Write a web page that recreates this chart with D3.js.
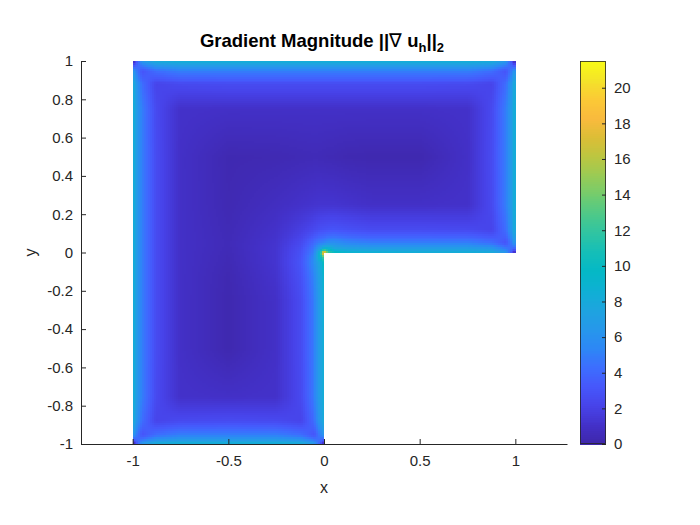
<!DOCTYPE html>
<html><head><meta charset="utf-8">
<script src="https://cdn.jsdelivr.net/npm/d3@7/dist/d3.min.js"></script>
<style>
body{margin:0;background:#fff}
text{font-family:"Liberation Sans",Arial,Helvetica,sans-serif}
</style>
</head><body>
<svg id="chart" width="700" height="525"></svg>
<script>
// grid node coordinates (same for x and y)
const gridX = [-1, -0.95, -0.88, -0.75, -0.5, -0.25, -0.12, -0.05, -0.02, 0, 0.02, 0.05, 0.12, 0.25, 0.5, 0.75, 0.88, 0.95, 1];
const gridY = [-1, -0.95, -0.88, -0.75, -0.5, -0.25, -0.12, -0.05, -0.02, 0, 0.02, 0.05, 0.12, 0.25, 0.5, 0.75, 0.88, 0.95, 1];
// gradient magnitude at nodes, rows in ascending y; rows with y<0 only cover x<=0
const magnitude = [
  [0, 6.5, 8.2, 8.5, 8.5, 8.5, 8.2, 6.5, 3.5, 0],
  [6.5, 3.0, 4.3, 5, 5, 5, 4.3, 3.0, 5, 6.5],
  [8.2, 4.3, 2.2, 2.5, 2.6, 2.5, 2.2, 4.3, 6.7, 8.2],
  [8.5, 5, 2.5, 1.1, 1.0, 1.1, 2.5, 5, 7.2, 8.5],
  [8.5, 5, 2.6, 1.0, 0.25, 1.0, 2.6, 5, 7.2, 8.5],
  [8.5, 5, 2.6, 1.0, 0.25, 1.0, 2.6, 5, 7.2, 8.8],
  [8.5, 5, 2.6, 1.0, 0.3, 1.2, 2.9, 5.4, 7.5, 9.3],
  [8.5, 5, 2.6, 1.0, 0.4, 1.3, 3.1, 6.0, 8.0, 10.5],
  [8.5, 5, 2.6, 1.0, 0.42, 1.3, 3.0, 5.8, 9.5, 13],
  [8.5, 5, 2.6, 1.0, 0.45, 1.3, 2.9, 5.3, 9.5, 21.5, 13, 10.5, 9.3, 8.8, 8.5, 8.5, 8.2, 6.5, 0],
  [8.5, 5, 2.6, 1.0, 0.48, 1.3, 2.8, 5.0, 7.5, 9.5, 9.5, 8.0, 7.5, 7.2, 7.2, 7.2, 6.7, 5, 3.5],
  [8.5, 5, 2.6, 1.0, 0.5, 1.25, 2.5, 4.2, 5.0, 5.3, 5.8, 6.0, 5.4, 5, 5, 5, 4.3, 3.0, 6.5],
  [8.5, 5, 2.6, 1.0, 0.45, 1.1, 1.9, 2.5, 2.8, 2.9, 3.0, 3.1, 2.9, 2.6, 2.6, 2.5, 2.2, 4.3, 8.2],
  [8.5, 5, 2.6, 1.0, 0.35, 0.8, 1.1, 1.25, 1.3, 1.3, 1.3, 1.3, 1.2, 1.0, 1.0, 1.1, 2.5, 5, 8.5],
  [8.5, 5, 2.6, 1.0, 0.3, 0.35, 0.45, 0.5, 0.48, 0.45, 0.42, 0.4, 0.3, 0.25, 0.25, 1.0, 2.6, 5, 8.5],
  [8.5, 5, 2.5, 1.1, 1.0, 1.0, 1.0, 1.0, 1.0, 1.0, 1.0, 1.0, 1.0, 1.0, 1.0, 1.1, 2.5, 5, 8.5],
  [8.2, 4.3, 2.2, 2.5, 2.6, 2.6, 2.6, 2.6, 2.6, 2.6, 2.6, 2.6, 2.6, 2.6, 2.6, 2.5, 2.2, 4.3, 8.2],
  [6.5, 3.0, 4.3, 5, 5, 5, 5, 5, 5, 5, 5, 5, 5, 5, 5, 5, 4.3, 3.0, 6.5],
  [0, 6.5, 8.2, 8.5, 8.5, 8.5, 8.5, 8.5, 8.5, 8.5, 8.5, 8.5, 8.5, 8.5, 8.5, 8.5, 8.2, 6.5, 0]
];
const xTicks = [-1, -0.5, 0, 0.5, 1];
const yTicks = [-1, -0.8, -0.6, -0.4, -0.2, 0, 0.2, 0.4, 0.6, 0.8, 1];
const cbTicks = [0, 2, 4, 6, 8, 10, 12, 14, 16, 18, 20];
const colorMin = 0, colorMax = 21.5;
const xLimits = [-1.27, 1.27], yLimits = [-1, 1];
const parula = ["#3e26a8","#4331c9","#4743e9","#4657fb","#3d6dfe","#2d87f6","#2697eb","#1ea4df","#0fb0d4","#04b8c6","#14beb8","#2ec4a3","#4dc989","#72cc6e","#99cb55","#bbc641","#dbbe36","#f9ba3d","#fbc936","#f4e329","#f9fb15"];

const svg = d3.select("#chart");
svg.append("rect").attr("width",700).attr("height",525).attr("fill","#fff");
const ax = {left:81, right:567, top:61, bottom:444};
const x = d3.scaleLinear().domain(xLimits).range([ax.left, ax.right]);
const y = d3.scaleLinear().domain(yLimits).range([ax.bottom, ax.top]);
const color = d3.scaleLinear()
  .domain(parula.map((c,i)=> colorMin + i*(colorMax-colorMin)/(parula.length-1)))
  .range(parula).interpolate(d3.interpolateRgb).clamp(true);

// field: each grid cell shaded from its four node values
const cells = [];
for (let j = 0; j < gridY.length - 1; j++) {
  const lo = magnitude[j], hi = magnitude[j+1];
  const n = Math.min(lo.length, hi.length);
  for (let i = 0; i < n - 1; i++) {
    const x0 = x(gridX[i]), x1 = x(gridX[i+1]);
    const yb = y(gridY[j]), yt = y(gridY[j+1]);
    const nx = Math.max(1, Math.round((x1-x0)/2)), ny = Math.max(1, Math.round((yb-yt)/2));
    const dw = (x1-x0)/nx, dh = (yb-yt)/ny;
    for (let a = 0; a < nx; a++) for (let b = 0; b < ny; b++) {
      const u = (a+0.5)/nx, w = (b+0.5)/ny;
      const v = (1-u)*(1-w)*lo[i] + u*(1-w)*lo[i+1] + (1-u)*w*hi[i] + u*w*hi[i+1];
      cells.push({x: x0 + a*dw, y: yb - (b+1)*dh, w: dw, h: dh, v});
    }
  }
}
svg.append("g").attr("shape-rendering","crispEdges")
  .selectAll("rect").data(cells).join("rect")
  .attr("x", d=>d.x).attr("y", d=>d.y)
  .attr("width", d=>d.w+0.4).attr("height", d=>d.h+0.4)
  .attr("fill", d=>color(d.v));

const axisColor = "#262626";
const fmt = d => String(d);
const gx = svg.append("g").attr("transform",`translate(0,${ax.bottom})`)
  .call(d3.axisBottom(x).tickValues(xTicks).tickFormat(fmt).tickSizeInner(-5).tickSizeOuter(0).tickPadding(11));
const gy = svg.append("g").attr("transform",`translate(${ax.left},0)`)
  .call(d3.axisLeft(y).tickValues(yTicks).tickFormat(fmt).tickSizeInner(-5).tickSizeOuter(0).tickPadding(8));
[gx, gy].forEach(g => {
  g.selectAll("path,line").attr("stroke", axisColor);
  g.selectAll("text").attr("fill", axisColor).style("font-size","15px");
  g.attr("font-family", null);
});

// axis labels
svg.append("text").attr("x", (ax.left+ax.right)/2).attr("y", 493).attr("text-anchor","middle")
  .attr("fill", axisColor).style("font-size","16px").text("x");
svg.append("text").attr("transform",`translate(36,${(ax.top+ax.bottom)/2}) rotate(-90)`).attr("text-anchor","middle")
  .attr("fill", axisColor).style("font-size","16px").text("y");

// title
const title = svg.append("text").attr("x",(ax.left+ax.right)/2 - 2).attr("y",47).attr("text-anchor","middle")
  .attr("fill","#000").style("font-size","18.5px").style("font-weight","bold");
title.append("tspan").text("Gradient Magnitude ||");
title.append("tspan").style("font-weight","normal").text("\u2207");
title.append("tspan").text(" u");
title.append("tspan").attr("dy",5).style("font-size","13px").text("h");
title.append("tspan").attr("dy",-5).text("||");
title.append("tspan").attr("dy",5).style("font-size","13px").text("2");

// colorbar
const cb = {left:580, right:606};
const cbY = d3.scaleLinear().domain([colorMin, colorMax]).range([ax.bottom, ax.top]);
const step = (colorMax-colorMin)/200;
const cbSteps = d3.range(colorMin, colorMax, step);
svg.append("g").attr("shape-rendering","crispEdges").selectAll("rect").data(cbSteps).join("rect")
  .attr("x", cb.left).attr("width", cb.right-cb.left)
  .attr("y", d => cbY(Math.min(colorMax, d + step)))
  .attr("height", d => cbY(d) - cbY(Math.min(colorMax, d + step)) + 0.5)
  .attr("fill", d => color(d + step/2));
svg.append("rect").attr("x", cb.left+0.5).attr("y", ax.top+0.5)
  .attr("width", cb.right-cb.left-1).attr("height", ax.bottom-ax.top-1)
  .attr("fill","none").attr("stroke", axisColor).attr("stroke-width",0.8);
const gc = svg.append("g").attr("transform",`translate(${cb.right},0)`)
  .call(d3.axisRight(cbY).tickValues(cbTicks).tickFormat(fmt).tickSizeInner(-4).tickSizeOuter(0).tickPadding(8));
gc.select(".domain").remove();
gc.selectAll("line").attr("stroke", axisColor);
gc.selectAll("text").attr("fill", axisColor).style("font-size","15px");
gc.attr("font-family", null);
</script>
</body></html>
